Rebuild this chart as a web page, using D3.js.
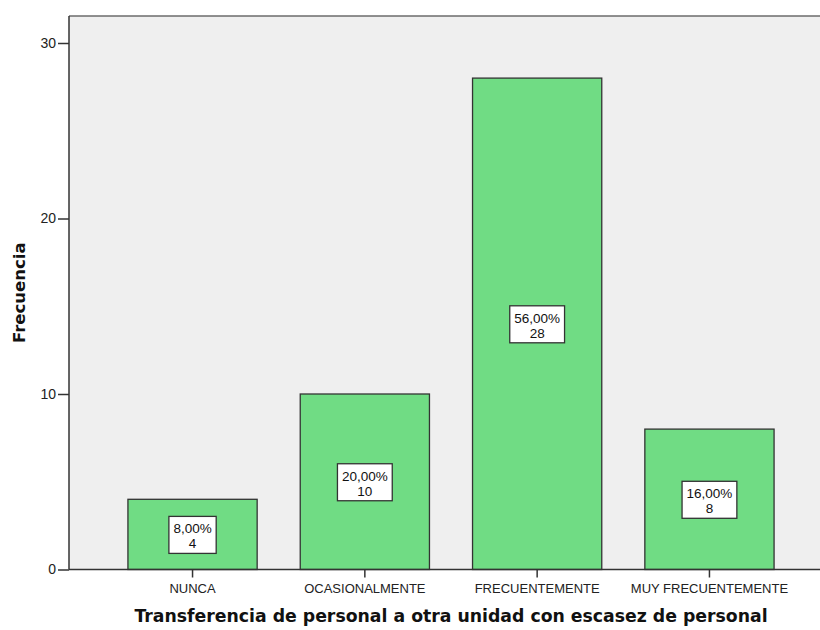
<!DOCTYPE html>
<html>
<head>
<meta charset="utf-8">
<script src="https://cdn.jsdelivr.net/npm/d3@7"></script>
<style>
body { margin: 0; background: #fff; }
svg { display: block; }
</style>
</head>
<body>
<div id="chart"></div>
<script>
var width = 820, height = 630;

var categories = ["NUNCA", "OCASIONALMENTE", "FRECUENTEMENTE", "MUY FRECUENTEMENTE"];
var counts = [4, 10, 28, 8];
var percents = ["8,00%", "20,00%", "56,00%", "16,00%"];
var yTicks = [0, 10, 20, 30];

var plot = {left: 69, top: 16, right: 833, bottom: 569.5};

var svg = d3.select("#chart").append("svg")
  .attr("width", width)
  .attr("height", height);

var x = d3.scaleBand()
  .domain(categories)
  .range([plot.left, plot.right])
  .paddingInner(0.25)
  .paddingOuter(0.342);

var y = d3.scaleLinear()
  .domain([0, 30])
  .range([plot.bottom, 43]);

// plot background
svg.append("rect")
  .attr("x", plot.left)
  .attr("y", plot.top)
  .attr("width", plot.right - plot.left)
  .attr("height", plot.bottom - plot.top)
  .attr("fill", "#efefef");

svg.append("line")
  .attr("x1", plot.left).attr("x2", width)
  .attr("y1", plot.top).attr("y2", plot.top)
  .attr("stroke", "#6b6b6b")
  .attr("stroke-width", 1.5);

// bars
var data = categories.map(function(c, i) {
  return {cat: c, n: counts[i], pct: percents[i]};
});

svg.selectAll("rect.bar")
  .data(data)
  .enter().append("rect")
  .attr("class", "bar")
  .attr("x", function(d) { return x(d.cat); })
  .attr("y", function(d) { return y(d.n); })
  .attr("width", x.bandwidth())
  .attr("height", function(d) { return y(0) - y(d.n); })
  .attr("fill", "#70dc84")
  .attr("stroke", "#333")
  .attr("stroke-width", 1.3);

// y axis
var yAxis = svg.append("g")
  .attr("transform", "translate(" + plot.left + ",0)")
  .call(d3.axisLeft(y).tickValues(yTicks).tickSize(11).tickPadding(2));
yAxis.select(".domain").attr("stroke", "#333").attr("stroke-width", 1.5)
  .attr("d", "M0," + plot.top + "V" + plot.bottom);
yAxis.selectAll(".tick line").attr("stroke", "#333").attr("stroke-width", 1.5);
yAxis.selectAll(".tick text")
  .attr("font-family", "Liberation Sans, Arial, sans-serif")
  .attr("font-size", 14)
  .attr("fill", "#222");

// x axis
var xAxis = svg.append("g")
  .attr("transform", "translate(0," + plot.bottom + ")")
  .call(d3.axisBottom(x).tickSize(8).tickPadding(6));
xAxis.select(".domain").attr("stroke", "#333").attr("stroke-width", 1.5)
  .attr("d", "M" + plot.left + ",0H" + width);
xAxis.selectAll(".tick line").attr("stroke", "#333").attr("stroke-width", 1.5);
xAxis.selectAll(".tick text")
  .attr("font-family", "Liberation Sans, Arial, sans-serif")
  .attr("font-size", 13)
  .attr("fill", "#222");

// value labels: percent over count, in a white box
var labels = svg.selectAll("g.lab")
  .data(data)
  .enter().append("g")
  .attr("class", "lab")
  .attr("transform", function(d) {
    return "translate(" + (x(d.cat) + x.bandwidth() / 2) + "," + ((y(d.n) + y(0)) / 2 + 1) + ")";
  });

labels.each(function(d) {
  var g = d3.select(this);
  var font = "Liberation Sans, Arial, sans-serif";
  g.append("text")
    .attr("text-anchor", "middle")
    .attr("y", -2)
    .attr("font-family", font)
    .attr("font-size", 13.5)
    .attr("fill", "#111")
    .text(d.pct);
  g.append("text")
    .attr("text-anchor", "middle")
    .attr("y", 13)
    .attr("font-family", font)
    .attr("font-size", 13.5)
    .attr("fill", "#111")
    .text(d.n);
  var w = this.getBBox().width + 9;
  g.insert("rect", "text")
    .attr("x", -w / 2)
    .attr("y", -19)
    .attr("width", w)
    .attr("height", 37)
    .attr("fill", "#fff")
    .attr("stroke", "#333")
    .attr("stroke-width", 1.3);
});

// axis titles
svg.append("text")
  .attr("x", (plot.left + plot.right) / 2)
  .attr("y", 622)
  .attr("text-anchor", "middle")
  .attr("font-family", "DejaVu Sans, sans-serif")
  .attr("font-weight", "bold")
  .attr("font-size", 17.3)
  .attr("fill", "#111")
  .text("Transferencia de personal a otra unidad con escasez de personal");

svg.append("text")
  .attr("transform", "translate(25," + ((plot.top + plot.bottom) / 2) + ") rotate(-90)")
  .attr("text-anchor", "middle")
  .attr("font-family", "DejaVu Sans, sans-serif")
  .attr("font-weight", "bold")
  .attr("font-size", 16.5)
  .attr("fill", "#111")
  .text("Frecuencia");
</script>
</body>
</html>
